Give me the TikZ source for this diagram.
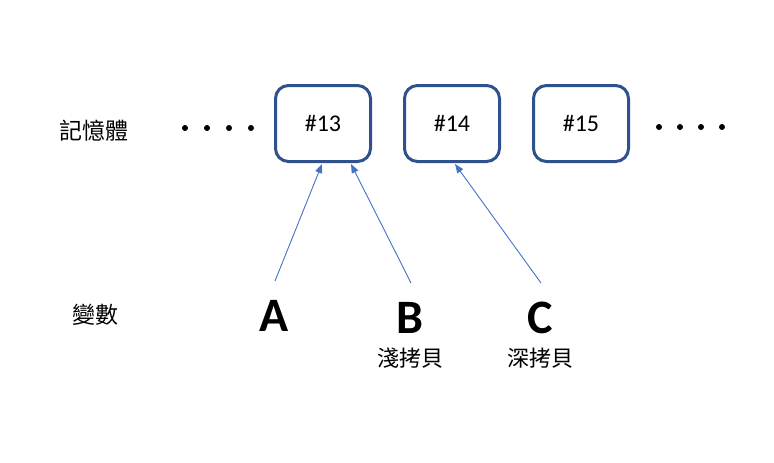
\documentclass[tikz,border=0pt]{standalone}
\usepackage{fontspec}
\setmainfont{Carlito}
\newfontfamily\cjk{Noto Sans CJK TC}
\usetikzlibrary{arrows.meta,calc}
\definecolor{boxblue}{HTML}{2F528F}
\definecolor{arrblue}{HTML}{4472C4}
\begin{document}
\begin{tikzpicture}[x=1pt,y=-1pt,
  membox/.style={draw=boxblue,line width=3pt,rounded corners=13pt,minimum width=95pt,minimum height=76pt,inner sep=0pt,font=\fontsize{24}{28}\selectfont},
  varname/.style={font=\fontsize{48}{52}\selectfont\bfseries,inner sep=0pt},
  cjklabel/.style={font=\cjk\fontsize{22}{26}\selectfont,inner sep=0pt},
  sidelabel/.style={font=\cjk\fontsize{23}{26}\selectfont,inner sep=0pt},
  arr/.style={draw=arrblue,line width=0.9pt,-{Triangle[length=9pt,width=7pt]}},
  dot/.style={circle,fill=black,inner sep=0pt,minimum size=6pt}]
\useasboundingbox (0,0) rectangle (774,463);
\node[sidelabel] (mem) at (94,131) {記憶體};
\node[sidelabel] (var) at (95,315) {變數};
\node[dot] (l1) at (185,128) {};
\node[dot] (l2) at (207,128) {};
\node[dot] (l3) at (229,128) {};
\node[dot] (l4) at (251,128) {};
\node[dot] (r1) at (659,127) {};
\node[dot] (r2) at (680,127) {};
\node[dot] (r3) at (701,127) {};
\node[dot] (r4) at (722,127) {};
\node[membox] (m13) at (323,123.5) {\#13};
\node[membox] (m14) at (452,123.5) {\#14};
\node[membox] (m15) at (581,123.5) {\#15};
\node[varname] (a) at (274,316) {A};
\node[varname] (b) at (410,318) {B};
\node[varname] (c) at (540,318) {C};
\node[cjklabel] (bl) at (410,358) {淺拷貝};
\node[cjklabel] (cl) at (540,358) {深拷貝};
\coordinate (ta) at (275,281);
\coordinate (tb) at (411,283);
\coordinate (tc) at (541,283);
\draw[arr] (ta) -- ($(m13.south)+(-1,1)$);
\draw[arr] (tb) -- ($(m13.south)+(28,1)$);
\draw[arr] (tc) -- ($(m14.south)+(3,1)$);
\end{tikzpicture}
\end{document}
